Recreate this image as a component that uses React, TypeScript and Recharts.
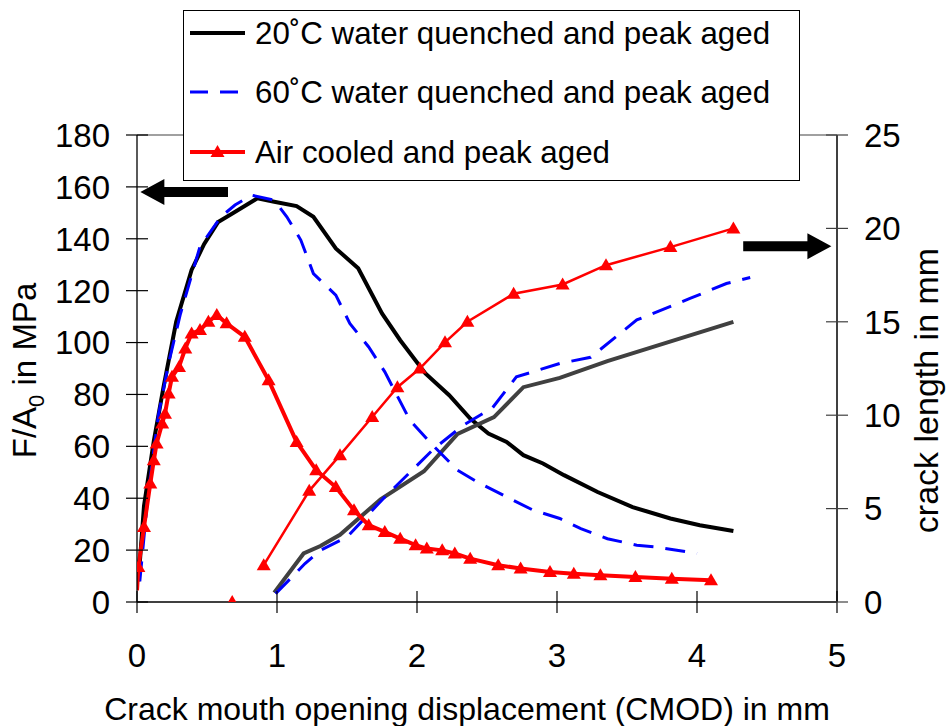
import { ComposedChart, Line, Scatter, XAxis, YAxis, Label, Legend, ReferenceLine } from 'recharts';

// CMOD (mm) vs F/A0 (MPa), left axis
const wq20LoadX = [0.01, 0.05, 0.12, 0.19, 0.28, 0.39, 0.48, 0.58, 0.69, 0.86, 0.98, 1.14, 1.26, 1.42, 1.58, 1.75, 1.88, 2.06, 2.23, 2.38, 2.51, 2.64, 2.76, 2.9, 3.05, 3.29, 3.54, 3.81, 4.02, 4.26];
const wq20LoadY = [8, 37, 62, 83, 108, 128, 138, 146.5, 150, 155.6, 154.3, 152.6, 148.5, 136.3, 128.6, 111.2, 100.9, 88.1, 79.7, 70.7, 64.9, 61.7, 56.6, 53.4, 48.9, 42.4, 36.6, 32.2, 29.6, 27.4];

const wq60LoadX = [0.02, 0.08, 0.155, 0.23, 0.31, 0.45, 0.6, 0.7, 0.82, 0.98, 1.07, 1.17, 1.26, 1.42, 1.52, 1.655, 1.77, 1.95, 2.1, 2.29, 2.43, 2.64, 2.83, 3.02, 3.17, 3.36, 3.57, 3.71, 4.0];
const wq60LoadY = [8, 42, 72.7, 93, 111, 137, 148.5, 153, 156.8, 154.9, 148.5, 139.5, 126.6, 118.3, 107.4, 98.3, 88.7, 70, 61.1, 50.8, 46.3, 40.5, 35.4, 32.2, 28.3, 24.4, 21.9, 21.2, 18.7];

const airLoadX = [0, 0.01, 0.05, 0.095, 0.12, 0.14, 0.18, 0.2, 0.226, 0.25, 0.3, 0.345, 0.39, 0.45, 0.51, 0.57, 0.64, 0.77, 0.94, 1.14, 1.28, 1.42, 1.55, 1.655, 1.77, 1.88, 1.99, 2.07, 2.18, 2.27, 2.38, 2.58, 2.74, 2.95, 3.12, 3.31, 3.56, 3.82, 4.1];
const airLoadY = [4.5, 13.5, 28.9, 45.7, 54.6, 61.1, 68.8, 72.6, 80.4, 86.8, 90.6, 97.7, 103.5, 104.8, 108, 110.6, 107.4, 102.2, 85.5, 61.7, 50.8, 44.3, 35.4, 29.6, 27, 24.4, 21.9, 20.6, 19.9, 18.7, 16.7, 14.2, 12.9, 11.6, 10.9, 10.3, 9.6, 9.0, 8.4];

// CMOD (mm) vs crack length (mm), right axis
const wq20CrackX = [0.98, 1.19, 1.31, 1.45, 1.74, 2.05, 2.29, 2.55, 2.76, 3.02, 3.36, 4.26];
const wq20CrackY = [0.5, 2.6, 3.0, 3.6, 5.5, 7.0, 9.0, 9.9, 11.5, 12.0, 12.9, 15.0];

const wq60CrackX = [0.99, 1.12, 1.2, 1.31, 1.5, 1.76, 2.12, 2.33, 2.54, 2.71, 3.02, 3.24, 3.57, 3.95, 4.21, 4.38];
const wq60CrackY = [0.45, 1.43, 2.06, 2.77, 3.48, 5.54, 8.2, 9.46, 10.4, 12.05, 12.77, 13.1, 15.1, 16.25, 17.05, 17.37];

const airCrackX = [0.905, 1.23, 1.45, 1.68, 1.86, 2.02, 2.2, 2.36, 2.69, 3.04, 3.35, 3.81, 4.26];
const airCrackY = [1.97, 5.95, 7.86, 9.9, 11.5, 12.5, 13.9, 15.0, 16.5, 17.0, 18.03, 19.0, 20.0];
const airCrackStart = [{ x: 0.68, y: 0 }];

const xTicks = [0, 1, 2, 3, 4, 5];
const leftTicks = [0, 20, 40, 60, 80, 100, 120, 140, 160, 180];
const rightTicks = [0, 5, 10, 15, 20, 25];

const legendNames = ['20˚C water quenched and peak aged', '60˚C water quenched and peak aged', 'Air cooled and peak aged'];

const zip = (xs: number[], ys: number[]) => xs.map((x, i) => ({ x, y: ys[i] }));

const FONT = '"Liberation Sans", Arial, sans-serif';

const triPath = (cx: number, cy: number) => `M${cx},${cy - 7} L${cx + 7},${cy + 5} L${cx - 7},${cy + 5} Z`;

const triDot = (skipFirst: boolean) => (props: any) => {
  const { cx, cy, index } = props;
  if (cx == null || cy == null || (skipFirst && index === 0)) return <g key={`n${index}`} />;
  return <path key={`t${index}`} d={triPath(cx, cy)} fill="#ff0000" />;
};

const LeftTick = (props: any) => {
  const { x, y, payload } = props;
  return (
    <g>
      <line x1={x - 11} x2={x + 11} y1={y} y2={y} stroke="#000" strokeWidth={1.2} />
      <text x={x - 27} y={y} dy="0.36em" textAnchor="end" fontSize={33} fontFamily={FONT} fill="#000">{payload.value}</text>
    </g>
  );
};

const RightTick = (props: any) => {
  const { x, y, payload } = props;
  return (
    <g>
      <line x1={x - 11} x2={x + 11} y1={y} y2={y} stroke="#404040" strokeWidth={1.2} />
      <text x={x + 27} y={y} dy="0.36em" textAnchor="start" fontSize={33} fontFamily={FONT} fill="#000">{payload.value}</text>
    </g>
  );
};

const BottomTick = (props: any) => {
  const { x, y, payload } = props;
  return (
    <g>
      <line x1={x} x2={x} y1={y - 11} y2={y + 11} stroke="#000" strokeWidth={1.2} />
      <text x={x} y={y + 53} dy="0.36em" textAnchor="middle" fontSize={33} fontFamily={FONT} fill="#000">{payload.value}</text>
    </g>
  );
};

const LeftTitle = (props: any) => {
  const { viewBox } = props;
  const cx = viewBox.x + 24;
  const cy = viewBox.y + viewBox.height / 2 + 2;
  return (
    <text x={cx} y={cy} transform={`rotate(-90 ${cx} ${cy})`} textAnchor="middle" dy="0.36em" fontSize={33} fontFamily={FONT} fill="#000">
      F/A<tspan dy={8} fontSize={22}>0</tspan><tspan dy={-8}> in MPa</tspan>
    </text>
  );
};

const RightTitle = (props: any) => {
  const { viewBox } = props;
  const cx = viewBox.x + 89;
  const cy = viewBox.y + viewBox.height / 2 + 22;
  return (
    <text x={cx} y={cy} transform={`rotate(-90 ${cx} ${cy})`} textAnchor="middle" dy="0.36em" fontSize={34} fontFamily={FONT} fill="#000">
      crack length in mm
    </text>
  );
};

const BottomTitle = (props: any) => {
  const { viewBox } = props;
  const cx = viewBox.x + viewBox.width / 2 - 20;
  return (
    <text x={cx} y={viewBox.y + 106} dy="0.36em" textAnchor="middle" fontSize={32} fontFamily={FONT} fill="#000">
      Crack mouth opening displacement (CMOD) in mm
    </text>
  );
};

// thick block arrow drawn along a reference segment, head at the second point
const Arrow = (props: any) => {
  const { x1, y1, x2 } = props;
  const dir = x2 > x1 ? 1 : -1;
  const hb = x2 - dir * 24;
  const y = y1;
  const pts = [[x1, y - 5], [hb, y - 5], [hb, y - 13], [x2, y], [hb, y + 13], [hb, y + 5], [x1, y + 5]];
  return <polygon points={pts.map((p) => p.join(',')).join(' ')} fill="#000" />;
};

const LegendBox = () => {
  const rows = [23, 82, 142];
  return (
    <svg width={617} height={171} style={{ display: 'block' }}>
      <rect x={0.5} y={0.5} width={616} height={170} fill="#fff" stroke="#000" strokeWidth={1} />
      <line x1={7} x2={62} y1={rows[0]} y2={rows[0]} stroke="#000" strokeWidth={4} />
      <line x1={7} x2={62} y1={rows[1]} y2={rows[1]} stroke="#0000ff" strokeWidth={3} strokeDasharray="18 12" />
      <line x1={7} x2={62} y1={rows[2]} y2={rows[2]} stroke="#ff0000" strokeWidth={4} />
      <path d={triPath(34.5, rows[2])} fill="#ff0000" />
      {legendNames.map((n, i) => (
        <text key={n} x={72} y={rows[i]} dy="0.36em" fontSize={31.3} fontFamily={FONT} fill="#000">{n}</text>
      ))}
    </svg>
  );
};

export default function App() {
  return (
    <div style={{ position: 'absolute', left: 0, top: 0, width: 952, height: 726, background: '#fff' }}>
      <ComposedChart width={952} height={726} margin={{ top: 135, right: 0, bottom: 0, left: 0 }}>
        <XAxis
          type="number"
          dataKey="x"
          domain={[0, 5]}
          ticks={xTicks}
          height={124}
          tickSize={0}
          tickMargin={0}
          tickLine={false}
          tick={BottomTick}
          axisLine={{ stroke: '#000', strokeWidth: 1.3 }}
          allowDataOverflow
        >
          <Label content={BottomTitle} />
        </XAxis>
        <YAxis
          yAxisId="left"
          type="number"
          domain={[0, 180]}
          ticks={leftTicks}
          width={137}
          tickSize={0}
          tickMargin={0}
          tickLine={false}
          tick={LeftTick}
          axisLine={{ stroke: '#000', strokeWidth: 1.3 }}
          allowDataOverflow
        >
          <Label content={LeftTitle} />
        </YAxis>
        <YAxis
          yAxisId="right"
          orientation="right"
          type="number"
          domain={[0, 25]}
          ticks={rightTicks}
          width={115}
          tickSize={0}
          tickMargin={0}
          tickLine={false}
          tick={RightTick}
          axisLine={{ stroke: '#404040', strokeWidth: 2 }}
          allowDataOverflow
        >
          <Label content={RightTitle} />
        </YAxis>

        <ReferenceLine yAxisId="left" y={180} stroke="#808080" strokeWidth={1.5} />

        <Line yAxisId="left" data={zip(wq20LoadX, wq20LoadY)} dataKey="y" type="linear" stroke="#000" strokeWidth={4} dot={false} isAnimationActive={false} />
        <Line yAxisId="right" data={zip(wq20CrackX, wq20CrackY)} dataKey="y" type="linear" stroke="#404040" strokeWidth={4} dot={false} isAnimationActive={false} />
        <Line yAxisId="left" data={zip(wq60LoadX, wq60LoadY)} dataKey="y" type="linear" stroke="#0000ff" strokeWidth={3} strokeDasharray="20 12" dot={false} isAnimationActive={false} />
        <Line yAxisId="right" data={zip(wq60CrackX, wq60CrackY)} dataKey="y" type="linear" stroke="#0000ff" strokeWidth={3} strokeDasharray="20 12" dot={false} isAnimationActive={false} />
        <Line yAxisId="left" data={zip(airLoadX, airLoadY)} dataKey="y" type="linear" stroke="#ff0000" strokeWidth={4} dot={triDot(true)} isAnimationActive={false} />
        <Line yAxisId="right" data={zip(airCrackX, airCrackY)} dataKey="y" type="linear" stroke="#ff0000" strokeWidth={2.5} dot={triDot(false)} isAnimationActive={false} />
        <Scatter yAxisId="right" data={airCrackStart} dataKey="y" shape={(p: any) => <path d={triPath(p.cx, p.cy)} fill="#ff0000" />} isAnimationActive={false} />

        <ReferenceLine yAxisId="left" segment={[{ x: 0.65, y: 158 }, { x: 0.024, y: 158 }]} shape={Arrow} />
        <ReferenceLine yAxisId="right" segment={[{ x: 4.33, y: 19.05 }, { x: 4.96, y: 19.05 }]} shape={Arrow} />

        <Legend
          layout="horizontal"
          verticalAlign="middle"
          align="center"
          content={LegendBox}
          wrapperStyle={{ position: 'absolute', left: 183, top: 10, width: 617, height: 171 }}
        />
      </ComposedChart>
    </div>
  );
}
